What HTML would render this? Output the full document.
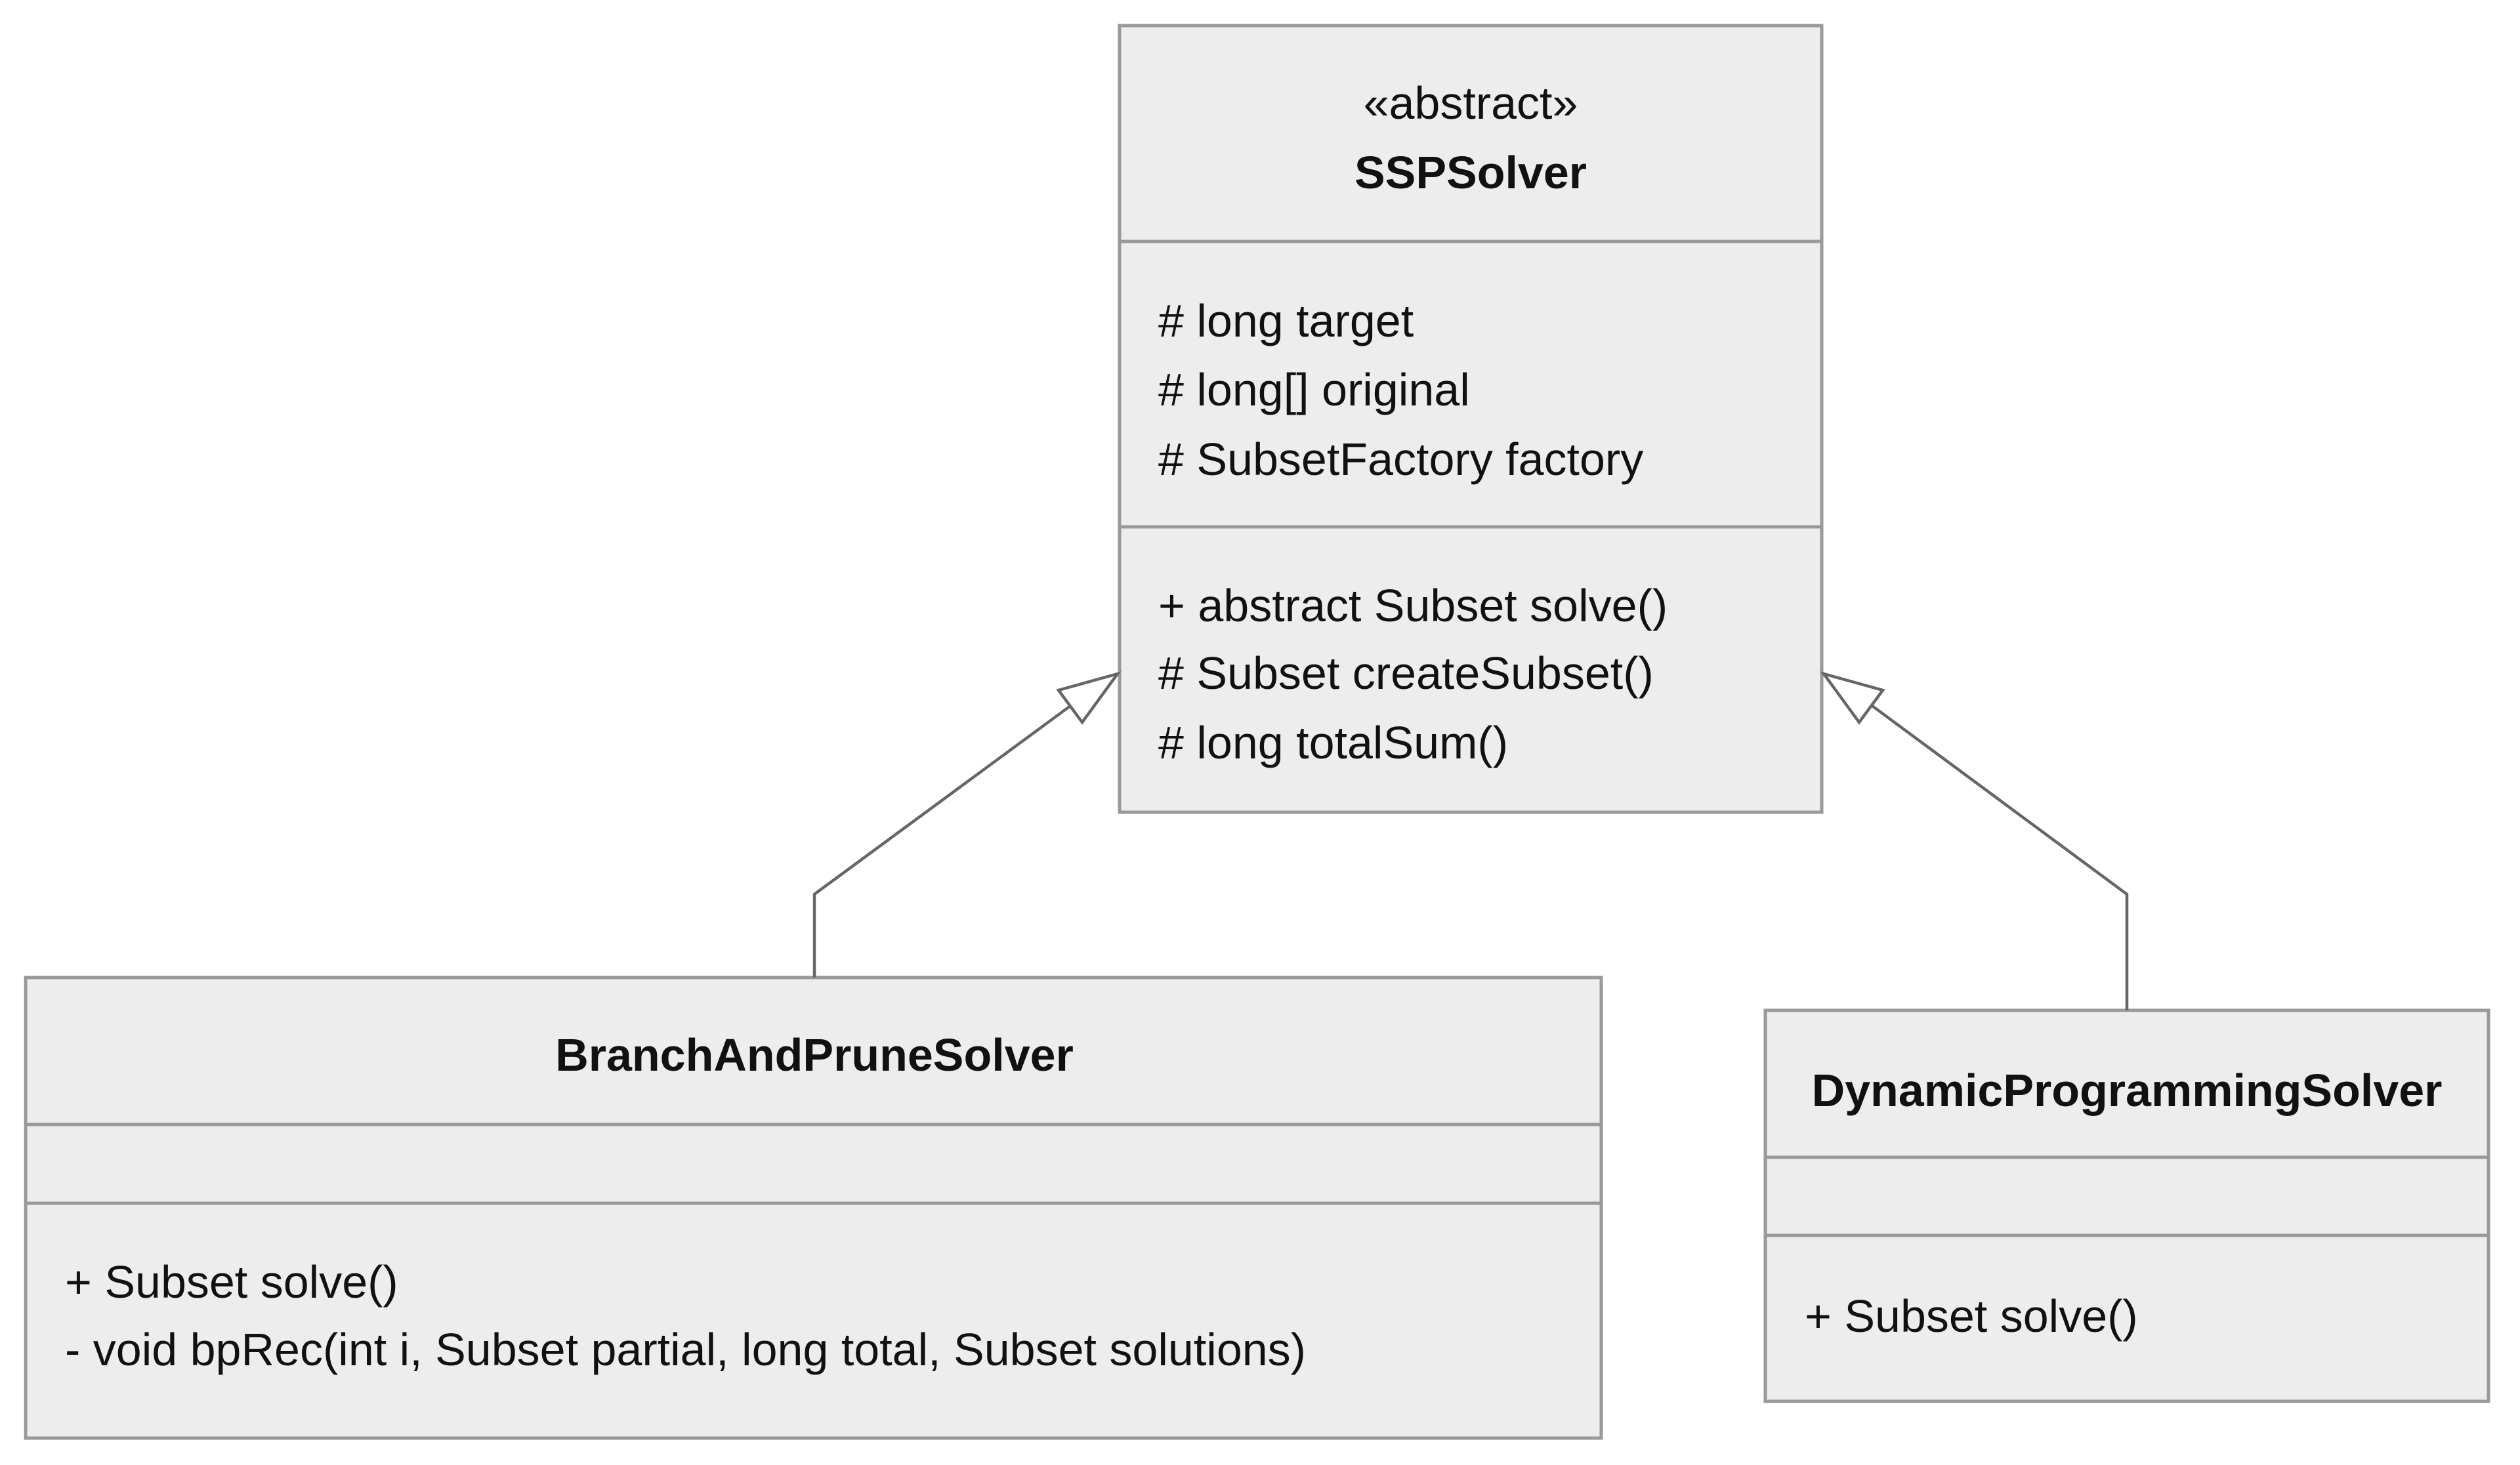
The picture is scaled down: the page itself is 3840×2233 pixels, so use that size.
<!DOCTYPE html>
<html><head><meta charset="utf-8"><style>
html,body{margin:0;padding:0;background:#fff;}
svg{display:block;}
text{font-family:"Liberation Sans",Arial,sans-serif;font-size:70px;fill:#111;dominant-baseline:central;}
.b{font-weight:bold;}
</style></head><body>
<svg width="3840" height="2233" viewBox="0 0 3840 2233" xmlns="http://www.w3.org/2000/svg">
<g fill="#ededed" stroke="#999" stroke-width="5">
<rect x="1706" y="39" width="1070" height="1199"/>
<line x1="1706" y1="368" x2="2776" y2="368"/>
<line x1="1706" y1="803" x2="2776" y2="803"/>
<rect x="39" y="1490" width="2401" height="702"/>
<line x1="39" y1="1714" x2="2440" y2="1714"/>
<line x1="39" y1="1834" x2="2440" y2="1834"/>
<rect x="2690" y="1540" width="1102" height="596"/>
<line x1="2690" y1="1764" x2="3792" y2="1764"/>
<line x1="2690" y1="1883" x2="3792" y2="1883"/>
</g>
<g fill="none" stroke="#666" stroke-width="4.5">
<polyline points="1241,1490 1241,1363 1631,1076"/>
<polygon points="1703,1027 1613,1052 1649,1101" fill="#fff"/>
<polyline points="3241,1540 3241,1363 2853,1076"/>
<polygon points="2779,1027 2869,1052 2833,1101" fill="#fff"/>
</g>
<text x="2241" y="157" text-anchor="middle">«abstract»</text>
<text x="2241" y="263" text-anchor="middle" class="b">SSPSolver</text>
<text x="1765" y="489"># long target</text>
<text x="1765" y="594"># long[] original</text>
<text x="1765" y="700"># SubsetFactory factory</text>
<text x="1765" y="923">+ abstract Subset solve()</text>
<text x="1765" y="1026"># Subset createSubset()</text>
<text x="1765" y="1132"># long totalSum()</text>
<text x="1241" y="1608" text-anchor="middle" class="b">BranchAndPruneSolver</text>
<text x="99" y="1954">+ Subset solve()</text>
<text x="99" y="2057">- void bpRec(int i, Subset partial, long total, Subset solutions)</text>
<text x="3241" y="1662" text-anchor="middle" class="b">DynamicProgrammingSolver</text>
<text x="2750" y="2006">+ Subset solve()</text>
</svg>
</body></html>
